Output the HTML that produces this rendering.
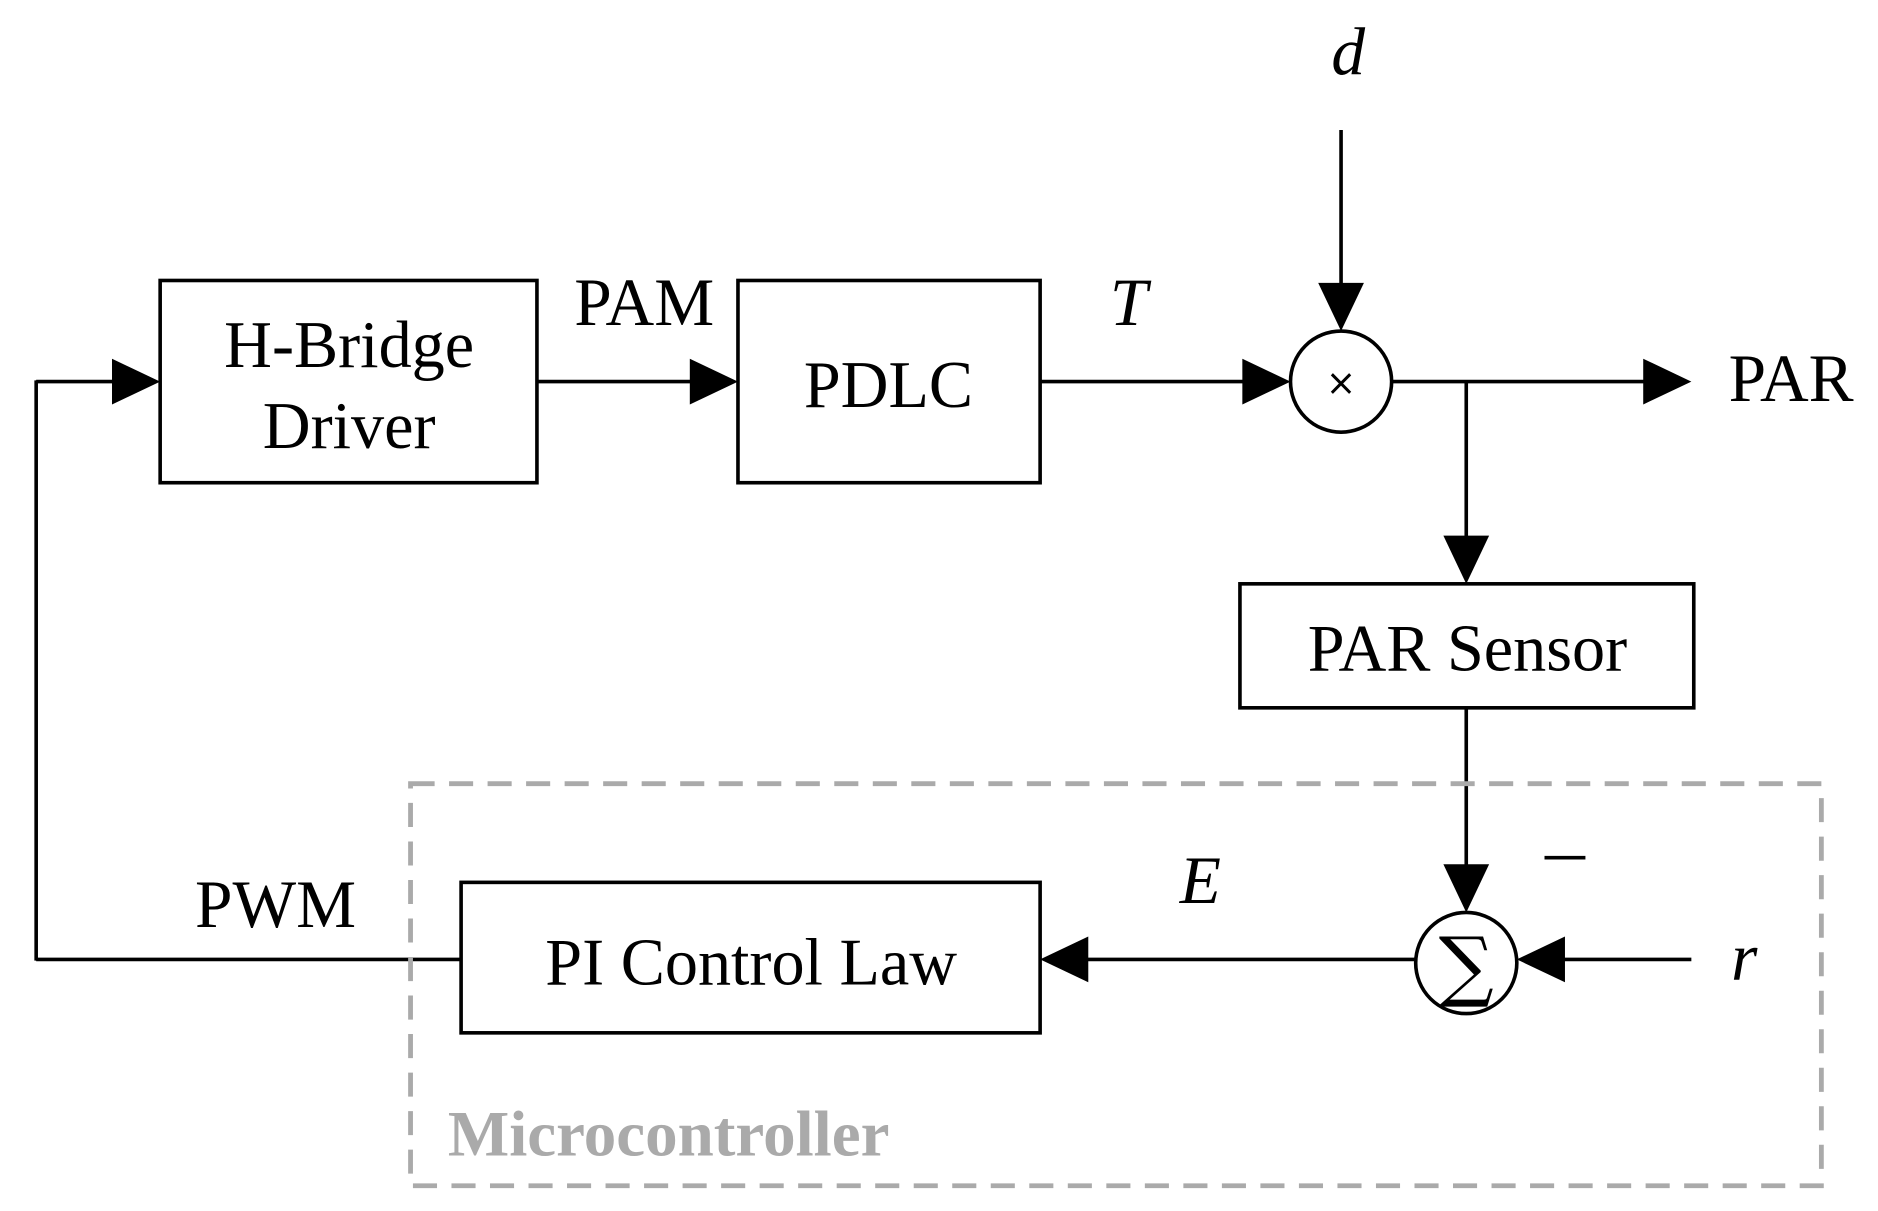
<!DOCTYPE html>
<html><head><style>html,body{margin:0;padding:0;background:#fff}svg{display:block}</style></head>
<body>
<svg width="1878" height="1211" viewBox="0 0 1560 1006" xmlns="http://www.w3.org/2000/svg" font-family="'Liberation Serif', serif">
<g stroke="#000" stroke-width="3" fill="none">
<rect x="133" y="233" width="313" height="168"/>
<rect x="613" y="233" width="251" height="168"/>
<rect x="1030" y="485" width="377" height="103"/>
<rect x="383" y="733" width="481" height="125"/>
<circle cx="1114" cy="317" r="42"/>
<circle cx="1218" cy="800" r="42"/>
<line x1="30" y1="317" x2="100" y2="317"/>
<line x1="30" y1="316" x2="30" y2="798"/>
<line x1="30" y1="797" x2="383" y2="797"/>
<line x1="446" y1="317" x2="580" y2="317"/>
<line x1="864" y1="317" x2="1040" y2="317"/>
<line x1="1114" y1="108" x2="1114" y2="245"/>
<line x1="1156" y1="317" x2="1370" y2="317"/>
<line x1="1218" y1="317" x2="1218" y2="450"/>
<line x1="1218" y1="588" x2="1218" y2="725"/>
<line x1="1405" y1="797" x2="1295" y2="797"/>
<line x1="1176" y1="797" x2="900" y2="797"/>
</g>
<g fill="#000">
<polygon points="133,317 93,298 93,336"/>
<polygon points="613,317 573,298 573,336"/>
<polygon points="1072,317 1032,298 1032,336"/>
<polygon points="1405,317 1365,298 1365,336"/>
<polygon points="1114,275 1095,235 1133,235"/>
<polygon points="1218,485 1199,445 1237,445"/>
<polygon points="1218,758 1199,718 1237,718"/>
<polygon points="1260,797 1300,778 1300,816"/>
<polygon points="864,797 904,778 904,816"/>
<rect x="1283" y="711" width="34" height="3"/>
</g>
<rect x="341" y="651" width="1172" height="334" fill="none" stroke="#aaa" stroke-width="4" stroke-dasharray="20,12"/>
<g font-size="55" text-anchor="middle" fill="#000">
<text x="290" y="305">H-Bridge</text>
<text x="290" y="372">Driver</text>
<text x="738" y="338">PDLC</text>
<text x="1219" y="557">PAR Sensor</text>
<text x="624" y="818">PI Control Law</text>
</g>
<g font-size="56" fill="#000">
<text x="477" y="270">PAM</text>
<text x="162" y="770">PWM</text>
<text x="1436" y="333">PAR</text>
<text x="922" y="270" font-style="italic">T</text>
<text x="980" y="750" font-style="italic">E</text>
<text x="1106" y="62" font-style="italic">d</text>
<text x="1438" y="814" font-style="italic">r</text>
</g>
<text x="1114" y="328" font-size="30" text-anchor="middle" font-family="'DejaVu Sans', sans-serif">×</text>
<text x="1218" y="824" font-size="64" text-anchor="middle" font-family="'DejaVu Serif', serif">∑</text>
<text x="372" y="960" font-size="54" font-weight="bold" fill="#aaa">Microcontroller</text>
</svg>
</body></html>
